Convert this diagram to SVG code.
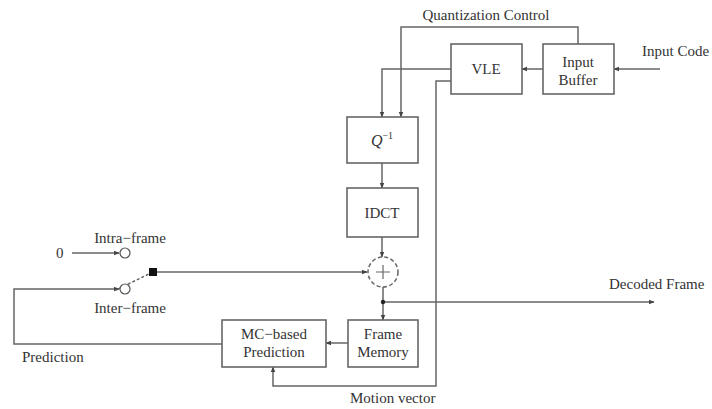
<svg xmlns="http://www.w3.org/2000/svg" width="712" height="409" viewBox="0 0 712 409">
<style>
text{font-family:"Liberation Serif","Times New Roman",serif;font-size:15px;fill:#333}
.t{text-anchor:middle}
.box{fill:#fff;stroke:#666;stroke-width:1.6}
.ln{fill:none;stroke:#666;stroke-width:1.5}
</style>
<defs>
<marker id="a" viewBox="0 0 10 10" refX="9" refY="5" markerWidth="6" markerHeight="6" orient="auto" markerUnits="userSpaceOnUse">
<path d="M0,1 L10,5 L0,9 z" fill="#444"/>
</marker>
</defs>
<rect width="712" height="409" fill="#fff"/>
<g id="connectors">
<polyline class="ln" points="578,44 578,27 401,27 401,117" marker-end="url(#a)"/>
<line class="ln" x1="660" y1="69" x2="614" y2="69" marker-end="url(#a)"/>
<line class="ln" x1="543" y1="69" x2="522" y2="69" marker-end="url(#a)"/>
<polyline class="ln" points="451,69 382,69 382,117" marker-end="url(#a)"/>
<polyline class="ln" points="451,81 436,81 436,386 273,386 273,367" marker-end="url(#a)"/>
<line class="ln" x1="382" y1="163" x2="382" y2="188" marker-end="url(#a)"/>
<line class="ln" x1="382" y1="237" x2="382" y2="257" marker-end="url(#a)"/>
<line class="ln" x1="153" y1="272" x2="367" y2="272" marker-end="url(#a)"/>
<line class="ln" x1="383" y1="287" x2="383" y2="320" marker-end="url(#a)"/>
<line class="ln" x1="383" y1="302" x2="654" y2="302" marker-end="url(#a)"/>
<circle cx="383" cy="302" r="2.2" fill="#222"/>
<line class="ln" x1="348" y1="343" x2="326" y2="343" marker-end="url(#a)"/>
<polyline class="ln" points="222,344 14,344 14,289 119,289" marker-end="url(#a)"/>
<line class="ln" x1="72" y1="253" x2="119" y2="253" marker-end="url(#a)"/>
<line class="ln" x1="153" y1="272" x2="116" y2="290" stroke-dasharray="3,2"/>
<circle cx="125" cy="253" r="5" fill="#fff" stroke="#555" stroke-width="1.2"/>
<circle cx="125" cy="289" r="5" fill="#fff" stroke="#555" stroke-width="1.2"/>
<rect x="149" y="268" width="8" height="8" fill="#111"/>
</g>
<g id="vle"><rect class="box" x="451" y="44" width="71" height="50"/><text class="t" x="486" y="74">VLE</text></g>
<g id="buffer"><rect class="box" x="543" y="44" width="71" height="50"/><text class="t" x="578" y="67">Input</text><text class="t" x="578" y="85">Buffer</text></g>
<g id="q"><rect class="box" x="347" y="117" width="71" height="46"/><text class="t" x="382" y="146"><tspan font-style="italic" font-size="16">Q</tspan><tspan font-size="10" dy="-7">−1</tspan></text></g>
<g id="idct"><rect class="box" x="347" y="188" width="71" height="49"/><text class="t" x="382" y="218">IDCT</text></g>
<g id="adder"><circle cx="383" cy="272" r="15" fill="#fff" stroke="#666" stroke-width="1.5" stroke-dasharray="4,2.5"/><path d="M383,265 V279 M376,272 H390" stroke="#666" stroke-width="1.2"/></g>
<g id="framemem"><rect class="box" x="348" y="320" width="70" height="47"/><text class="t" x="383" y="339">Frame</text><text class="t" x="383" y="357">Memory</text></g>
<g id="mc"><rect class="box" x="222" y="320" width="104" height="47"/><text class="t" x="274" y="339">MC−based</text><text class="t" x="274" y="357">Prediction</text></g>
<g id="labels">
<text class="t" x="486" y="20">Quantization Control</text>
<text x="642" y="56">Input Code</text>
<text x="609" y="289">Decoded Frame</text>
<text x="350" y="403">Motion vector</text>
<text x="22" y="362">Prediction</text>
<text class="t" x="130" y="243">Intra−frame</text>
<text class="t" x="130" y="313">Inter−frame</text>
<text x="56" y="258">0</text>
</g>
</svg>
